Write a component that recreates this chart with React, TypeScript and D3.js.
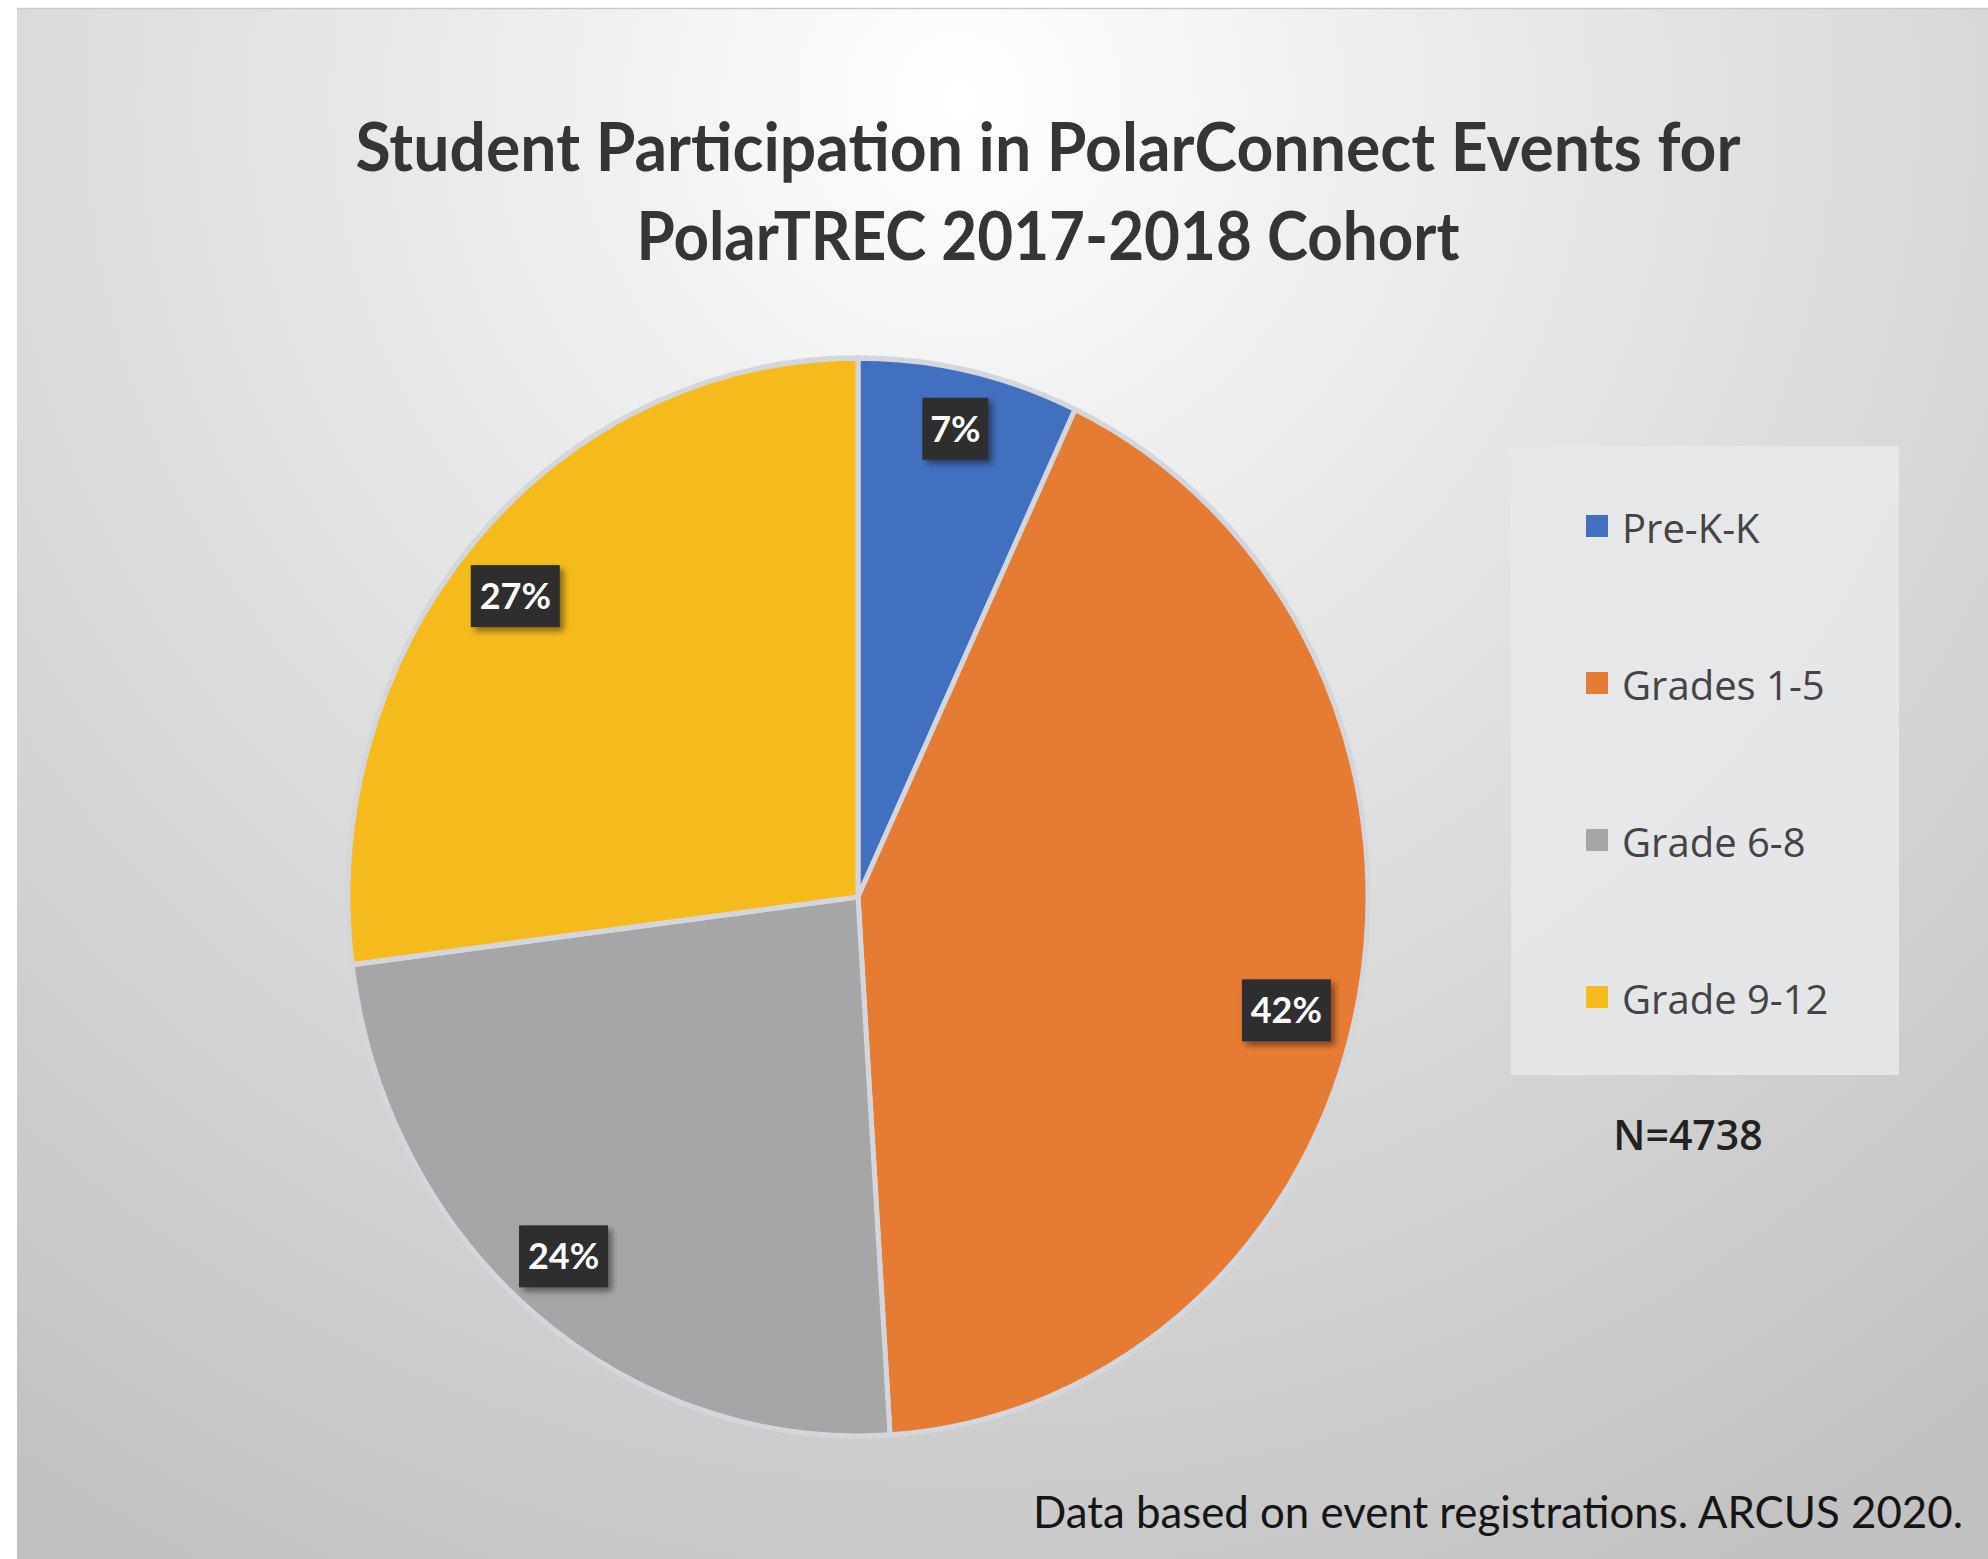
import React from 'react';
import * as d3 from 'd3';

// ── Data ──────────────────────────────────────────────────────────────────────
const categories = ['Pre-K-K', 'Grades 1-5', 'Grade 6-8', 'Grade 9-12'];
const shares = [7, 42, 24, 27];
const sliceColors = ['#4170c1', '#e67c34', '#a6a6a6', '#f5bb1d'];
const titleLines = [
  'Student Participation in PolarConnect Events for',
  'PolarTREC 2017-2018 Cohort',
];
const sampleNote = 'N=4738';
const footnote = 'Data based on event registrations. ARCUS 2020.';

// ── Layout (pixels) ───────────────────────────────────────────────────────────
const W = 1988;
const H = 1559;
const PIE = { cx: 858, cy: 897, r: 510, sy: 539 / 510 };
const LEGEND = { x: 1511, y: 446, w: 388, h: 629, top: 543, bottom: 1014 };
// small hand nudges for the data-label boxes (Excel "best fit" placement)
const LABEL_NUDGE: [number, number][] = [[0, -8], [-10, 25], [-10, -4], [-8, 11]];

export default function App() {
  const pie = d3.pie<number>().sort(null).value((d) => d);
  const slices = pie(shares);

  const arc = d3.arc<d3.PieArcDatum<number>>().innerRadius(0).outerRadius(PIE.r);
  const labelArc = d3
    .arc<d3.PieArcDatum<number>>()
    .innerRadius(PIE.r * 0.875)
    .outerRadius(PIE.r * 0.875);

  const legendY = d3.scalePoint<string>().domain(categories).range([LEGEND.top, LEGEND.bottom]);
  const color = d3.scaleOrdinal<string, string>().domain(categories).range(sliceColors);

  return (
    <div style={{ position: 'absolute', left: 0, top: 0, width: W, height: H }}>
      <svg width={W} height={H} style={{ display: 'block' }}>
        <defs>
          <radialGradient id="bg" gradientUnits="userSpaceOnUse" cx={960} cy={100} r={1650}>
            <stop offset="0" stopColor="#ffffff" />
            <stop offset="0.22" stopColor="#f0f0f0" />
            <stop offset="0.55" stopColor="#dcdcdc" />
            <stop offset="1" stopColor="#c2c2c2" />
          </radialGradient>
          <filter id="shadow" x="-30%" y="-30%" width="160%" height="160%">
            <feDropShadow dx="4" dy="4" stdDeviation="3" floodColor="#000" floodOpacity="0.45" />
          </filter>
        </defs>

        {/* page + picture frame */}
        <rect width={W} height={H} fill="#ffffff" />
        <rect x={17} y={8} width={W - 17} height={H - 8} fill="url(#bg)" />
        <line x1={17} x2={W} y1={8.5} y2={8.5} stroke="#c9c9c9" strokeWidth={1.5} />

        {/* title */}
        {titleLines.map((line, i) => (
          <text
            key={line}
            x={1048}
            y={171 + i * 89}
            textAnchor="middle"
            fontFamily="Lato, 'Open Sans', sans-serif"
            fontWeight={700}
            fontSize={66}
            fill="#353535"
            textLength={i === 0 ? 1385 : 823}
            lengthAdjust="spacingAndGlyphs"
          >
            {line}
          </text>
        ))}

        {/* pie */}
        <g transform={`translate(${PIE.cx},${PIE.cy}) scale(1,${PIE.sy})`}>
          {slices.map((s, i) => (
            <path
              key={categories[i]}
              d={arc(s) ?? ''}
              fill={sliceColors[i]}
              stroke="#d3d7dd"
              strokeWidth={5}
              strokeLinejoin="round"
            />
          ))}
        </g>

        {/* data labels */}
        {slices.map((s, i) => {
          const [lx, ly] = labelArc.centroid(s);
          const px = PIE.cx + lx + LABEL_NUDGE[i][0];
          const py = PIE.cy + ly * PIE.sy + LABEL_NUDGE[i][1];
          const txt = `${shares[i]}%`;
          const bw = 20 + 23 * txt.length;
          const bh = 62;
          return (
            <g key={categories[i]}>
              <rect
                x={px - bw / 2}
                y={py - bh / 2}
                width={bw}
                height={bh}
                fill="#2e2e2e"
                filter="url(#shadow)"
              />
              <text
                x={px}
                y={py + 13}
                textAnchor="middle"
                fontFamily="Lato, 'Open Sans', sans-serif"
                fontWeight={700}
                fontSize={36}
                fill="#ffffff"
              >
                {txt}
              </text>
            </g>
          );
        })}

        {/* legend */}
        <rect x={LEGEND.x} y={LEGEND.y} width={LEGEND.w} height={LEGEND.h} fill="#e8e9eb" opacity={0.85} />
        {categories.map((c) => {
          const y = legendY(c) ?? 0;
          return (
            <g key={c}>
              <rect x={1586} y={y - 28} width={22} height={22} fill={color(c)} />
              <text
                x={1622}
                y={y}
                fontFamily="'Open Sans', 'Noto Sans', sans-serif"
                fontSize={40}
                fill="#444444"
              >
                {c}
              </text>
            </g>
          );
        })}

        {/* sample size */}
        <text
          x={1688}
          y={1150}
          textAnchor="middle"
          fontFamily="'Open Sans', 'Noto Sans', sans-serif"
          fontWeight={600}
          fontSize={41}
          fill="#222222"
        >
          {sampleNote}
        </text>

        {/* footnote */}
        <text
          x={1033}
          y={1528}
          fontFamily="Lato, 'Open Sans', sans-serif"
          fontSize={45}
          fill="#151515"
          textLength={930}
          lengthAdjust="spacingAndGlyphs"
        >
          {footnote}
        </text>
      </svg>
    </div>
  );
}
